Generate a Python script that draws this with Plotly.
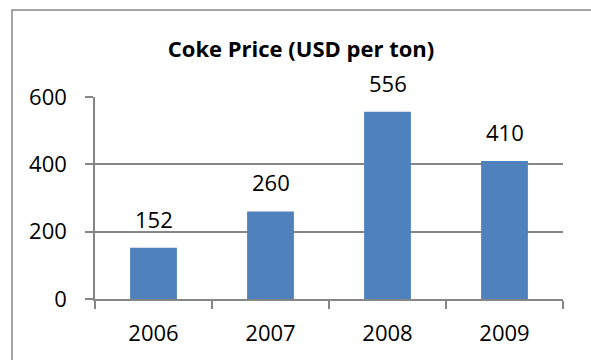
import plotly.graph_objects as go

years = ["2006", "2007", "2008", "2009"]
prices = [152, 260, 556, 410]
y_ticks = [0, 200, 400, 600]

FONT = "Open Sans"
GREY = "#868686"
BLUE = "#4F81BD"

fig = go.Figure(go.Bar(x=years, y=prices, marker=dict(color=BLUE, line=dict(width=0)),
                       width=0.4, hoverinfo="skip"))

for i, p in enumerate(prices):
    fig.add_annotation(x=i, y=p, text=str(p), showarrow=False, yanchor="bottom",
                       yshift=12, font=dict(family=FONT, size=22, color="#000000"))

fig.add_shape(type="rect", xref="paper", yref="paper", x0=-0.1774, x1=1.3, y0=-0.5, y1=1.4307,
              line=dict(color=GREY, width=1.5), fillcolor="rgba(0,0,0,0)", layer="below")

fig.update_layout(
    width=591, height=360,
    margin=dict(l=95, r=28, t=97, b=61),
    paper_bgcolor="white", plot_bgcolor="white",
    showlegend=False,
    title=dict(text="<b>Coke Price (USD per ton)</b>", x=301/591, xanchor="center",
               y=1 - 49/360, yanchor="middle", font=dict(family=FONT, size=22, color="#000000")),
    font=dict(family=FONT, size=22, color="#000000"),
    xaxis=dict(type="category", categoryorder="array", categoryarray=years, range=[-0.5, 3.5],
               showgrid=False, showline=True, linecolor=GREY, linewidth=1.5,
               ticks="outside", ticklen=8, tickcolor=GREY, tickwidth=1.5, tickson="boundaries",
               tickfont=dict(family=FONT, size=22), tickangle=0, automargin=False,
               ticklabelstandoff=14, fixedrange=True),
    yaxis=dict(range=[0, 600], tickvals=y_ticks, showgrid=True, gridcolor=GREY, gridwidth=1.5,
               showline=True, linecolor=GREY, linewidth=1.5, zeroline=False,
               ticks="outside", ticklen=8, tickcolor=GREY, tickwidth=1.5, automargin=False,
               tickfont=dict(family=FONT, size=22), ticklabelstandoff=14, fixedrange=True),
)

fig.write_html("out.html")
